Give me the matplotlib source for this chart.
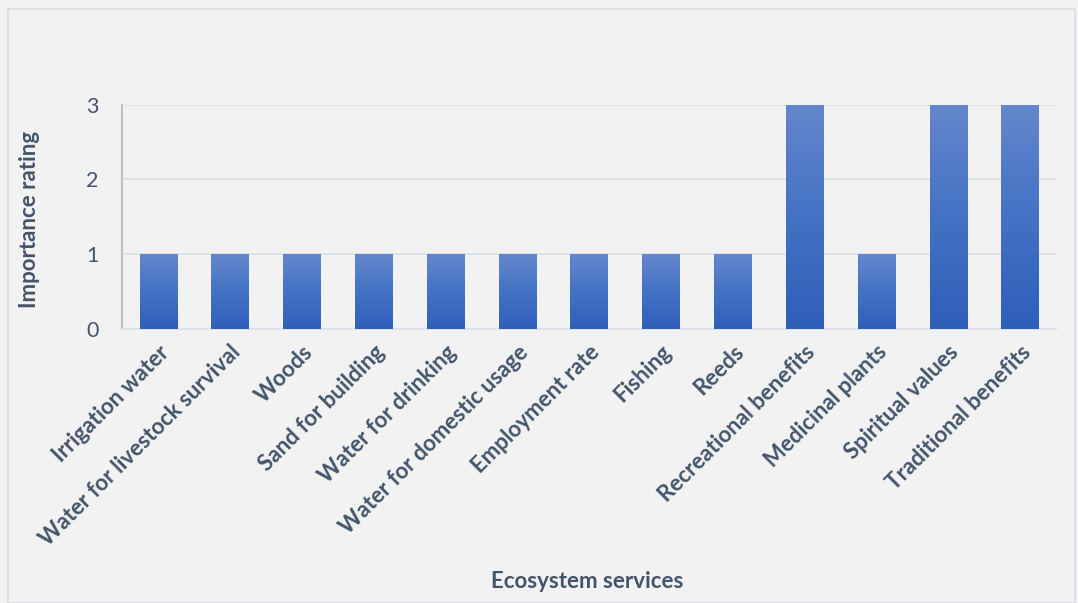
import numpy as np
import matplotlib.pyplot as plt
from matplotlib.colors import LinearSegmentedColormap
from matplotlib.patches import Rectangle

services = ["Irrigation water", "Water for livestock survival", "Woods",
            "Sand for building", "Water for drinking", "Water for domestic usage",
            "Employment rate", "Fishing", "Reeds", "Recreational benefits",
            "Medicinal plants", "Spiritual values", "Traditional benefits"]
rating = [1, 1, 1, 1, 1, 1, 1, 1, 1, 3, 1, 3, 3]

text_col = "#44546a"
bg = "#f2f2f2"

plt.rcParams['font.family'] = ['Lato', 'DejaVu Sans']

fig = plt.figure(figsize=(10.78, 6.03), dpi=100, facecolor=bg)
# thin border around the chart area
fig.patches.append(Rectangle((0.007, 0.0), 0.99, 0.985, transform=fig.transFigure,
                             facecolor="none", edgecolor="#d9dde3", linewidth=1.2, zorder=5))

ax = fig.add_axes([0.1135, 0.4545, 0.866, 0.372])
ax.set_facecolor(bg)

x = np.arange(len(services))
bars = ax.bar(x, rating, width=0.52, color="#4472c4", zorder=2)

# vertical gradient on every bar, light at the top and darker at the base
grad = LinearSegmentedColormap.from_list("bar", ["#2e5fb8", "#4472c4", "#6487cc"])
for b in bars:
    x0, w, h = b.get_x(), b.get_width(), b.get_height()
    img = ax.imshow(np.linspace(0, 1, 256).reshape(-1, 1), cmap=grad, origin="lower",
                    extent=[x0, x0 + w, 0, h], aspect="auto", zorder=3)
    img.set_clip_path(b)
    b.set_facecolor("none")

ax.set_xlim(-0.5, len(services) - 0.5)
ax.set_ylim(0, 3)
ax.set_yticks([0, 1, 2, 3])
ax.yaxis.grid(True, color="#dde2ea", linewidth=1.5, zorder=1)
ax.set_axisbelow(True)

for s in ["top", "right"]:
    ax.spines[s].set_visible(False)
ax.spines["left"].set_color("#bfbfbf")
ax.spines["left"].set_linewidth(1.5)
ax.spines["bottom"].set_color("#dde2ea")
ax.spines["bottom"].set_linewidth(1.5)

ax.tick_params(axis="both", length=0)
ax.tick_params(axis="y", labelsize=15.5, labelcolor=text_col, pad=17)
ax.set_xticks(x)
ax.set_xticklabels(services, rotation=45, ha="right", rotation_mode="anchor",
                   fontsize=16, fontweight="bold", color=text_col)
ax.tick_params(axis="x", pad=9)

ax.set_ylabel("Importance rating", fontsize=16, fontweight="bold", color=text_col)
ax.yaxis.set_label_coords(-0.088, 0.49)
fig.text(0.545, 0.025, "Ecosystem services", ha="center", fontsize=16,
         fontweight="bold", color=text_col)

fig.savefig("out.png", dpi=100, facecolor=bg)
